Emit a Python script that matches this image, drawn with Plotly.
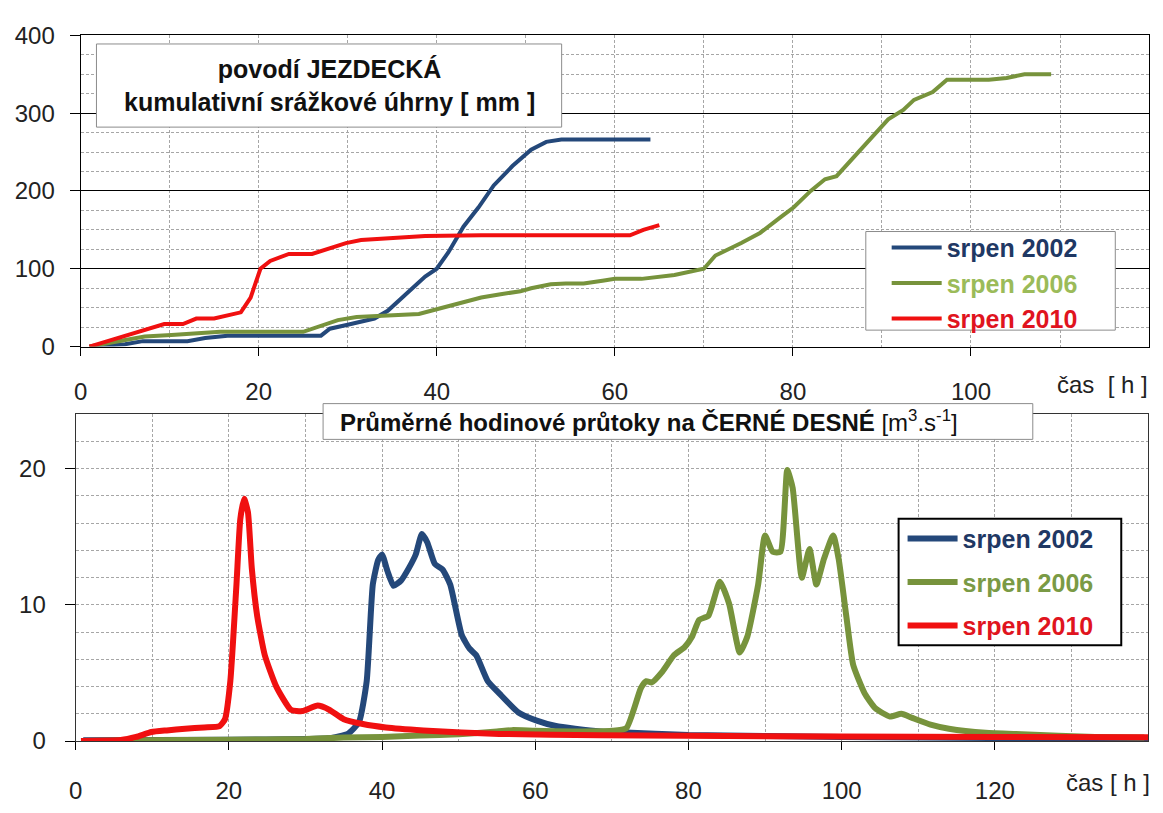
import plotly.graph_objects as go

# ---------------- data: top chart (cumulative precipitation, mm) ----------------
h_2002_top = [1, 3, 5, 7, 12, 14, 16.5, 27, 28, 30, 33, 34.5, 36.5, 38.7, 40, 41.3, 43, 44.7, 46.4, 48.5, 50.6, 52.3, 54, 64]
p_2002 = [0, 2, 3, 7, 7, 11, 14, 14, 23, 28, 36, 46, 67, 90, 100, 121, 154, 179, 207, 232, 253, 263, 266, 266]

h_2006_top = [1, 4.7, 7.2, 10.2, 13.2, 15.7, 25, 26.8, 28.9, 31, 34.5, 38, 40, 43, 45, 47, 49.4, 50.6, 52.8, 54.5, 56.5,
              58.8, 60, 63, 66.7, 70, 71.3, 74.2, 76.3, 78.7, 80.1, 82, 83.6, 84.9, 87, 89, 90.7, 92.4, 93.6, 95.7, 97.3,
              102, 104, 106, 109]
p_2006 = [0, 7, 13, 15, 17, 19, 19, 26, 34, 38, 40, 42, 48, 57, 63, 67, 71, 75, 80, 81, 81,
          85, 87, 87, 92, 100, 117, 133, 146, 167, 179, 200, 215, 219, 246, 271, 292, 304, 317, 327, 343,
          343, 345, 350, 350]

h_2010_top = [1, 3, 4.7, 6.4, 8, 9.4, 11.5, 13, 15, 16.6, 18, 19.1, 20.2, 21.3, 23.4, 26, 28, 29.8, 31.5, 34.5, 38.7, 45,
              61.7, 63.2, 65]
p_2010 = [0, 7, 13, 19, 24, 29, 29, 36, 36, 40, 44, 63, 100, 110, 119, 119, 127, 133, 137, 139, 142, 143,
          143, 150, 156]

# ---------------- data: bottom chart (mean hourly discharge, m3/s) ----------------
h_2002_q = [1, 20, 30, 33, 35.6, 37, 38, 38.8, 39.5, 40, 40.7, 41.5, 42.5, 43.5, 44.4, 45.2, 45.9, 46.9, 47.9, 48.9,
            50.4, 51.4, 52.3, 53.8, 55.3, 57.8, 60.2, 62.7, 65.2, 68.5, 71, 80, 100, 120, 140]
q_2002 = [0.05, 0.1, 0.15, 0.2, 0.55, 1.4, 4.4, 11.5, 13.3, 13.7, 12.5, 11.4, 11.8, 12.7, 13.7, 15.2, 14.6, 13.0, 12.6,
          11.5, 7.8, 6.8, 6.3, 4.4, 3.5, 2.1, 1.5, 1.1, 0.9, 0.7, 0.65, 0.45, 0.3, 0.22, 0.18]

h_2006_q = [1, 8, 20, 30, 35, 40, 45, 50, 55, 57, 60, 65, 70, 71.9, 73.8, 74.5, 75.2, 76.6, 78.1, 79.5, 80.5, 81.4,
            82.6, 84.1, 85.3, 86.7, 87.7, 89.1, 90, 91, 92, 92.9, 93.6, 94.8, 95.8, 96.7, 97.7, 98.9, 99.6, 100.6,
            101.5, 103, 104.4, 106.3, 107.8, 109.2, 111.6, 114, 118.8, 123.5, 133.1, 139.5]
q_2006 = [0.0, 0.05, 0.1, 0.15, 0.25, 0.3, 0.4, 0.5, 0.7, 0.8, 0.75, 0.7, 0.75, 0.95, 3.9, 4.4, 4.3, 5.1, 6.3, 6.9,
          7.7, 8.9, 9.2, 11.7, 10.1, 6.5, 7.7, 11.5, 15.1, 13.9, 13.9, 19.9, 18.6, 12.0, 14.1, 11.5, 13.4, 15.1, 13.4,
          9.2, 5.6, 3.5, 2.4, 1.8, 2.0, 1.7, 1.2, 0.9, 0.6, 0.5, 0.3, 0.25]

h_2010_q = [0.7, 5.9, 7.9, 9.9, 11.9, 14.3, 16.8, 18.8, 19.5, 20.2, 21, 21.5, 22, 22.5, 23, 23.7, 24.7, 26.2, 28.1,
            29.6, 31.6, 33.1, 35, 37.5, 40.5, 45.4, 50.4, 55.3, 68.5, 80, 100, 120, 140]
q_2010 = [0, 0.07, 0.3, 0.66, 0.78, 0.9, 1.0, 1.1, 1.6, 4.4, 11.5, 16.3, 17.8, 16.8, 12.7, 9.2, 6.3, 4.0, 2.3,
          2.2, 2.6, 2.3, 1.6, 1.25, 1.0, 0.78, 0.62, 0.52, 0.43, 0.38, 0.33, 0.3, 0.27]

series_names = ["srpen 2002", "srpen 2006", "srpen 2010"]
top_x_ticks = [0, 20, 40, 60, 80, 100]
bottom_x_ticks = [0, 20, 40, 60, 80, 100, 120]

title_top = "<b>povodí JEZDECKÁ<br>kumulativní srážkové úhrny [ mm ]</b>"
title_bottom = "<b>Průměrné hodinové průtoky na ČERNÉ DESNÉ</b> [m<sup>3</sup>.s<sup>-1</sup>]"
x_title_top = "čas  [ h ]"
x_title_bottom = "čas [ h ]"

# ---------------- styling ----------------
W, H = 1163, 813
FONT = "Liberation Sans, Arial, sans-serif"
C_BLUE = "#24487A"
C_GREEN = "#77933C"
C_RED = "#F01010"
TXT_BLUE = "#1F3864"
TXT_GREEN_TOP = "#9BBB59"
TXT_GREEN_BOT = "#7A9A45"
TXT_RED = "#E0141E"
GRID = "#A6A6A6"


def px_x(p):
    return p / W


def px_y(p):
    return 1 - p / H


fig = go.Figure()

top_sets = [(h_2002_top, p_2002, C_BLUE, TXT_BLUE), (h_2006_top, p_2006, C_GREEN, TXT_GREEN_TOP),
            (h_2010_top, p_2010, C_RED, TXT_RED)]
for i, (hx, vy, c, tc) in enumerate(top_sets):
    fig.add_trace(go.Scatter(
        x=hx, y=vy, mode="lines", xaxis="x", yaxis="y",
        line=dict(color=c, width=4),
        name=f"<b><span style='color:{tc}'>{series_names[i]}</span></b>",
        legend="legend", legendgroup=f"t{i}"))

bot_sets = [(h_2002_q, q_2002, C_BLUE, TXT_BLUE), (h_2006_q, q_2006, C_GREEN, TXT_GREEN_BOT),
            (h_2010_q, q_2010, C_RED, TXT_RED)]
for i, (hx, vy, c, tc) in enumerate(bot_sets):
    fig.add_trace(go.Scatter(
        x=hx, y=vy, mode="lines", xaxis="x2", yaxis="y2",
        line=dict(color=c, width=6, shape="spline", smoothing=0.5),
        name=f"<b><span style='color:{tc}'>{series_names[i]}</span></b>",
        legend="legend2", legendgroup=f"b{i}"))

tickfont = dict(family=FONT, size=24, color="#222222")
dash = "3px,2px"

fig.update_layout(
    width=W, height=H,
    margin=dict(l=0, r=0, t=0, b=0),
    paper_bgcolor="white", plot_bgcolor="white",
    font=dict(family=FONT, size=20, color="#111111"),
    xaxis=dict(domain=[px_x(74), px_x(1149)], range=[0, 120], anchor="y",
               tickvals=top_x_ticks, ticks="outside", ticklen=8, tickcolor="black",
               showline=True, linecolor="black", linewidth=1, mirror=True,
               showgrid=True, gridcolor=GRID, griddash=dash, gridwidth=1,
               minor=dict(dtick=10, tick0=0, showgrid=True, gridcolor=GRID, griddash=dash, ticks=""),
               tickfont=tickfont, ticklabelstandoff=16, zeroline=False),
    yaxis=dict(domain=[px_y(344), px_y(22)], range=[0, 400], anchor="x",
               dtick=100, ticks="outside", ticklen=10, tickcolor="black",
               showline=True, linecolor="black", linewidth=1, mirror=True,
               showgrid=True, gridcolor="black", gridwidth=1,
               minor=dict(dtick=25, showgrid=True, gridcolor=GRID, griddash=dash, ticks=""),
               tickfont=tickfont, ticklabelstandoff=10, zeroline=False),
    xaxis2=dict(domain=[px_x(69), px_x(1148)], range=[0, 140], anchor="y2",
                tickvals=bottom_x_ticks, ticks="outside", ticklen=8, tickcolor="black",
                showline=True, linecolor="#333333", linewidth=1, mirror=True,
                showgrid=True, gridcolor=GRID, griddash=dash, gridwidth=1,
                minor=dict(dtick=10, tick0=0, showgrid=True, gridcolor=GRID, griddash=dash, ticks=""),
                tickfont=tickfont, ticklabelstandoff=20, zeroline=False),
    yaxis2=dict(domain=[px_y(752), px_y(414)], range=[0, 24], anchor="x2",
                dtick=10, ticks="outside", ticklen=10, tickcolor="black",
                showline=True, linecolor="#333333", linewidth=1, mirror=True,
                showgrid=True, gridcolor=GRID, griddash=dash, gridwidth=1,
                minor=dict(dtick=2, showgrid=True, gridcolor=GRID, griddash=dash, ticks=""),
                tickfont=tickfont, ticklabelstandoff=14, zeroline=False),
    legend=dict(x=px_x(885), y=px_y(218), xanchor="left", yanchor="top",
                bgcolor="rgba(0,0,0,0)", borderwidth=0,
                font=dict(family=FONT, size=25), itemwidth=50, tracegroupgap=0,
                itemclick=False, itemdoubleclick=False),
    legend2=dict(x=px_x(901), y=px_y(519), xanchor="left", yanchor="top",
                 bgcolor="rgba(0,0,0,0)", borderwidth=0,
                 font=dict(family=FONT, size=25), itemwidth=50, tracegroupgap=8,
                 itemclick=False, itemdoubleclick=False),
    showlegend=True,
)

# legend boxes
fig.add_shape(type="rect", xref="paper", yref="paper", x0=px_x(864), x1=px_x(1115), y0=px_y(327), y1=px_y(225),
              line=dict(color="#8C8C8C", width=1), fillcolor="white", layer="above")
fig.add_shape(type="rect", xref="paper", yref="paper", x0=px_x(897), x1=px_x(1121), y0=px_y(653), y1=px_y(522),
              line=dict(color="black", width=2), fillcolor="white", layer="above")

# title boxes
fig.add_shape(type="rect", xref="paper", yref="paper", x0=px_x(90), x1=px_x(558), y0=px_y(117), y1=px_y(31),
              line=dict(color="#8C8C8C", width=1), fillcolor="white", layer="above")
fig.add_annotation(xref="paper", yref="paper", x=px_x(324), y=px_y(74), xanchor="center", yanchor="middle",
                   text=title_top, showarrow=False, align="center",
                   font=dict(family=FONT, size=25, color="#111111"))
fig.add_shape(type="rect", xref="paper", yref="paper", x0=px_x(318), x1=px_x(1032), y0=px_y(440), y1=px_y(403),
              line=dict(color="#8C8C8C", width=1), fillcolor="white", layer="above")
fig.add_annotation(xref="paper", yref="paper", x=px_x(333), y=px_y(421), xanchor="left", yanchor="middle",
                   text=title_bottom, showarrow=False, align="left",
                   font=dict(family=FONT, size=24, color="#111111"))

# axis end labels
fig.add_annotation(xref="paper", yref="paper", x=px_x(1150), y=px_y(383), xanchor="right", yanchor="middle",
                   text=x_title_top, showarrow=False, font=dict(family=FONT, size=24, color="#222222"))
fig.add_annotation(xref="paper", yref="paper", x=px_x(1152), y=px_y(795), xanchor="right", yanchor="middle",
                   text=x_title_bottom, showarrow=False, font=dict(family=FONT, size=24, color="#222222"))

fig.write_html("out.html")
